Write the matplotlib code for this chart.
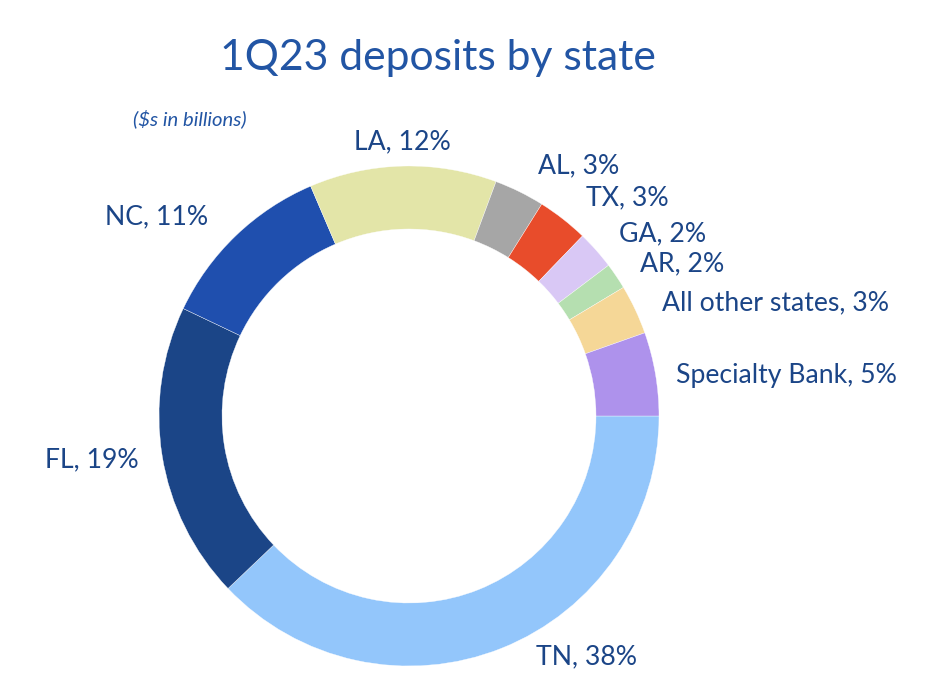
import matplotlib.pyplot as plt

plt.rcParams['font.family'] = ['Lato', 'DejaVu Sans']

states = ["TN", "FL", "NC", "LA", "AL", "TX", "GA", "AR", "All other states", "Specialty Bank"]
shares = [37.9, 19.2, 11.5, 12.1, 3.25, 3.3, 2.5, 1.7, 3.2, 5.4]
printed = [38, 19, 11, 12, 3, 3, 2, 2, 3, 5]
colors = ["#93C6FB", "#1B4587", "#1F4FAE", "#E3E5A8", "#A6A6A6",
          "#E84C2B", "#D9C8F5", "#B5DFB0", "#F5D797", "#AE92EC"]

W, H = 926, 698
# label centres in image pixels
label_pos = [(587, 657), (92, 460), (157, 217), (402, 142), (579, 166),
             (627, 198), (663, 234), (682, 264), (775, 303), (786, 375)]

fig = plt.figure(figsize=(W / 100, H / 100), dpi=100)
ax = fig.add_axes([0, 0, 1, 1])
ax.pie(shares, colors=colors, startangle=0, counterclock=False,
       center=(409, H - 416), radius=250,
       wedgeprops=dict(width=63, edgecolor="white", linewidth=0.25))
ax.set_xlim(0, W)
ax.set_ylim(0, H)
ax.axis("off")

for state, pct, (x, y) in zip(states, printed, label_pos):
    ax.text(x, H - y, f"{state}, {pct}%", ha="center", va="center",
            fontsize=19.2, color="#1B4587")

ax.text(438, H - 58, "1Q23 deposits by state", ha="center", va="center",
        fontsize=30.7, color="#2255A4")
ax.text(190, H - 119, "($s in billions)", ha="center", va="center",
        fontsize=14.6, style="italic", color="#2255A4")

fig.savefig("out.png", dpi=100)
